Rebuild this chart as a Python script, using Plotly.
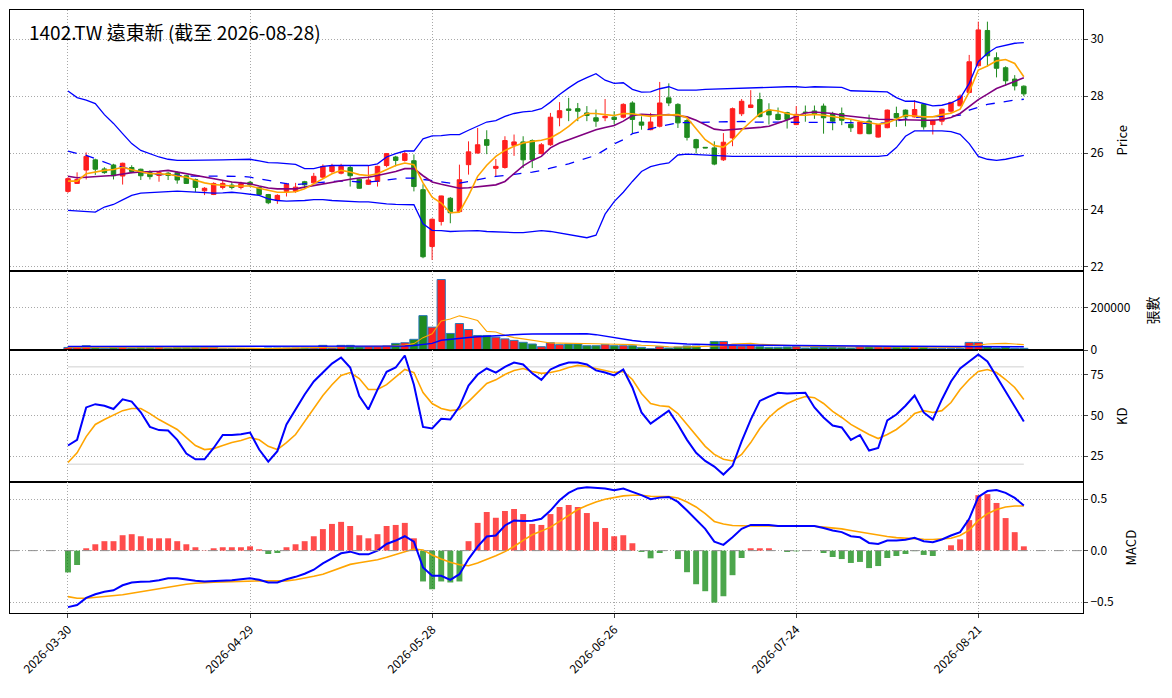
import pandas as pd
import plotly.graph_objects as go
from plotly.subplots import make_subplots

# ---------------------------------------------------------------------------
# Data
# ---------------------------------------------------------------------------

HOLIDAYS = ["2026-04-03", "2026-04-06", "2026-05-01", "2026-06-19"]
dates = [
    d.strftime("%Y-%m-%d")
    for d in pd.bdate_range("2026-03-30", "2026-08-28")
    if d.strftime("%Y-%m-%d") not in HOLIDAYS
]
tick_dates = ["2026-03-30", "2026-04-29", "2026-05-28", "2026-06-26", "2026-07-24", "2026-08-21"]

opens = [24.65, 24.93, 25.40, 25.76, 25.44, 25.58, 25.19, 25.49, 25.43, 25.31,
         25.21, 25.29, 25.31, 25.20, 25.07, 24.67, 24.54, 24.79, 24.87, 24.79,
         24.97, 24.79, 24.54, 24.33, 24.65, 24.65, 24.99, 24.95, 25.15, 25.35,
         25.29, 25.49, 25.08, 24.90, 25.00, 25.56, 25.86, 25.74, 25.73, 24.71,
         22.71, 23.59, 24.41, 23.94, 25.59, 26.00, 26.47, 25.46, 25.49, 26.27,
         26.39, 26.44, 25.98, 26.29, 27.24, 27.55, 27.56, 27.41, 27.24, 27.24,
         27.26, 27.26, 27.76, 27.09, 26.82, 26.94, 27.94, 27.71, 27.14, 26.47,
         26.20, 26.18, 25.76, 26.53, 27.38, 27.60, 27.88, 27.51, 27.36, 27.42,
         27.00, 27.44, 27.48, 27.65, 27.39, 27.39, 27.01, 26.68, 27.12, 26.56,
         26.89, 27.39, 27.51, 27.27, 27.71, 27.00, 27.12, 27.47, 27.66, 28.13,
         29.07, 30.31, 29.35, 29.00, 28.60, 28.35]
highs = [25.15, 25.32, 26.02, 25.80, 25.50, 25.62, 25.66, 25.57, 25.45, 25.39,
         25.35, 25.33, 25.35, 25.22, 25.10, 24.80, 24.97, 25.05, 24.99, 24.99,
         25.02, 24.80, 24.56, 24.55, 24.95, 24.95, 25.02, 25.30, 25.60, 25.62,
         25.62, 25.55, 25.10, 25.55, 25.55, 26.00, 25.90, 26.05, 25.95, 24.90,
         23.70, 24.50, 24.45, 25.59, 26.41, 26.88, 26.80, 25.79, 26.59, 26.65,
         26.59, 26.48, 26.35, 27.41, 27.79, 27.94, 27.76, 27.65, 27.53, 27.90,
         27.47, 27.75, 27.82, 27.29, 27.41, 28.50, 28.45, 27.75, 27.20, 26.50,
         26.21, 26.41, 26.70, 27.60, 27.90, 28.21, 28.12, 27.75, 27.60, 27.45,
         27.65, 27.67, 27.67, 27.74, 27.45, 27.60, 27.18, 27.10, 27.35, 27.02,
         27.53, 27.63, 27.53, 27.86, 27.73, 27.17, 27.56, 27.80, 28.06, 29.45,
         30.62, 30.62, 29.54, 29.05, 28.74, 28.38]
lows = [24.60, 24.92, 25.07, 25.23, 25.27, 25.07, 24.89, 25.29, 25.05, 25.07,
        24.99, 25.05, 24.92, 24.92, 24.63, 24.52, 24.52, 24.72, 24.72, 24.72,
        24.80, 24.50, 24.20, 24.21, 24.47, 24.60, 24.80, 24.92, 25.10, 25.30,
        25.25, 24.82, 24.74, 24.88, 24.82, 25.50, 25.53, 25.70, 24.65, 22.30,
        22.24, 23.45, 23.53, 23.90, 25.24, 25.98, 25.96, 25.18, 25.45, 25.90,
        25.47, 25.47, 25.95, 26.25, 26.94, 27.12, 27.12, 27.12, 26.92, 27.12,
        27.00, 27.22, 26.70, 26.82, 26.80, 26.90, 27.65, 26.88, 26.44, 25.98,
        26.17, 25.57, 25.72, 26.24, 27.30, 27.58, 27.25, 27.00, 27.15, 26.86,
        26.98, 27.10, 27.20, 26.68, 26.80, 26.98, 26.74, 26.66, 26.66, 26.54,
        26.87, 26.92, 26.94, 27.25, 26.82, 26.65, 26.98, 27.40, 27.64, 28.10,
        29.04, 29.04, 28.66, 28.36, 28.20, 28.00]
closes = [25.10, 25.07, 25.88, 25.43, 25.31, 25.20, 25.64, 25.35, 25.20, 25.17,
          25.31, 25.21, 25.05, 24.93, 24.79, 24.76, 24.93, 24.93, 24.79, 24.92,
          24.88, 24.54, 24.25, 24.51, 24.90, 24.80, 24.88, 25.18, 25.53, 25.53,
          25.53, 25.20, 24.76, 25.05, 25.53, 25.98, 25.74, 25.98, 24.82, 22.35,
          23.67, 24.49, 23.90, 25.06, 26.04, 26.29, 26.27, 25.53, 26.44, 26.39,
          25.76, 25.76, 26.29, 27.26, 27.49, 27.50, 27.47, 27.32, 27.12, 27.29,
          27.18, 27.71, 27.18, 26.98, 27.09, 27.76, 27.76, 27.06, 26.55, 26.18,
          26.18, 25.61, 26.38, 27.56, 27.82, 27.69, 27.28, 27.34, 27.18, 27.18,
          27.36, 27.42, 27.36, 27.24, 27.12, 27.15, 26.89, 27.09, 26.68, 27.00,
          27.51, 27.24, 27.27, 27.53, 26.92, 27.15, 27.54, 27.78, 28.00, 29.21,
          30.33, 29.42, 28.98, 28.54, 28.36, 28.08]

ma5 = [25.01, 25.01, 25.27, 25.33, 25.39, 25.42, 25.50, 25.41, 25.33, 25.27,
       25.27, 25.25, 25.19, 25.15, 25.04, 24.95, 24.89, 24.86, 24.84, 24.84,
       24.84, 24.76, 24.68, 24.62, 24.62, 24.64, 24.74, 24.92, 25.09, 25.27,
       25.39, 25.33, 25.24, 25.21, 25.27, 25.41, 25.56, 25.65, 25.59, 24.95,
       24.45, 24.24, 23.90, 23.92, 24.50, 25.18, 25.57, 25.88, 26.09, 26.24,
       26.35, 26.41, 26.45, 26.53, 26.71, 26.94, 27.21, 27.39, 27.39, 27.35,
       27.32, 27.39, 27.38, 27.33, 27.29, 27.33, 27.35, 27.35, 27.24, 26.85,
       26.47, 26.26, 26.21, 26.45, 26.80, 27.10, 27.38, 27.52, 27.48, 27.39,
       27.33, 27.33, 27.36, 27.33, 27.29, 27.24, 27.19, 27.12, 27.06, 27.01,
       27.06, 27.19, 27.33, 27.30, 27.27, 27.27, 27.35, 27.40, 27.54, 28.15,
       28.92, 29.06, 29.24, 29.29, 29.15, 28.68]
ma10 = [25.18, 25.13, 25.15, 25.18, 25.19, 25.21, 25.27, 25.31, 25.33, 25.34,
        25.36, 25.39, 25.33, 25.27, 25.21, 25.15, 25.09, 25.04, 24.98, 24.95,
        24.92, 24.84, 24.77, 24.74, 24.74, 24.74, 24.80, 24.86, 24.92, 24.98,
        25.04, 25.08, 25.12, 25.15, 25.21, 25.27, 25.35, 25.45, 25.45, 25.20,
        24.98, 24.90, 24.82, 24.76, 24.78, 24.82, 24.85, 24.88, 25.00, 25.29,
        25.55, 25.74, 25.88, 26.18, 26.35, 26.47, 26.59, 26.71, 26.82, 26.90,
        26.97, 27.12, 27.32, 27.36, 27.34, 27.33, 27.35, 27.32, 27.27, 27.15,
        27.00, 26.84, 26.80, 26.82, 26.86, 26.86, 26.90, 26.94, 27.04, 27.16,
        27.29, 27.41, 27.44, 27.41, 27.39, 27.33, 27.29, 27.25, 27.21, 27.19,
        27.18, 27.18, 27.16, 27.16, 27.15, 27.15, 27.18, 27.25, 27.39, 27.62,
        27.88, 28.07, 28.27, 28.39, 28.51, 28.65]
bb_up = [28.18, 27.95, 27.86, 27.74, 27.35, 27.04, 26.68, 26.33, 26.09, 25.98,
         25.86, 25.78, 25.74, 25.74, 25.74, 25.75, 25.75, 25.76, 25.77, 25.78,
         25.78, 25.72, 25.66, 25.65, 25.62, 25.60, 25.45, 25.45, 25.53, 25.56,
         25.56, 25.56, 25.56, 25.56, 25.62, 25.86, 25.98, 26.07, 26.07, 26.50,
         26.60, 26.61, 26.65, 26.65, 26.80, 26.94, 27.09, 27.14, 27.29, 27.39,
         27.45, 27.47, 27.56, 27.79, 28.06, 28.29, 28.50, 28.65, 28.79, 28.56,
         28.45, 28.47, 28.24, 28.14, 28.15, 28.26, 28.33, 28.21, 28.21, 28.21,
         28.24, 28.25, 28.26, 28.28, 28.30, 28.31, 28.31, 28.33, 28.33, 28.33,
         28.33, 28.31, 28.33, 28.33, 28.33, 28.31, 28.19, 28.18, 28.18, 28.16,
         28.15, 27.95, 27.82, 27.82, 27.74, 27.66, 27.68, 27.76, 27.92, 28.45,
         29.21, 29.51, 29.72, 29.80, 29.86, 29.88]
bb_mid = [26.07, 25.98, 25.92, 25.80, 25.68, 25.56, 25.50, 25.41, 25.33, 25.27,
          25.25, 25.22, 25.19, 25.19, 25.19, 25.19, 25.19, 25.19, 25.18, 25.18,
          25.15, 25.09, 25.04, 24.98, 24.92, 24.89, 24.92, 24.95, 24.98, 25.00,
          25.01, 25.01, 24.98, 24.98, 25.01, 25.06, 25.09, 25.12, 25.12, 25.07,
          25.03, 24.98, 24.94, 24.94, 25.00, 25.06, 25.12, 25.18, 25.21, 25.24,
          25.29, 25.33, 25.38, 25.47, 25.54, 25.62, 25.72, 25.82, 25.92, 26.12,
          26.32, 26.47, 26.68, 26.76, 26.86, 26.94, 27.00, 27.06, 27.07, 27.08,
          27.08, 27.10, 27.10, 27.11, 27.11, 27.09, 27.09, 27.09, 27.09, 27.09,
          27.09, 27.09, 27.09, 27.09, 27.09, 27.09, 27.07, 27.04, 27.04, 27.04,
          27.07, 27.12, 27.19, 27.25, 27.27, 27.27, 27.29, 27.29, 27.33, 27.51,
          27.62, 27.71, 27.76, 27.82, 27.86, 27.89]
bb_low = [23.98, 23.96, 23.95, 23.92, 24.10, 24.19, 24.35, 24.51, 24.59, 24.60,
          24.62, 24.64, 24.66, 24.64, 24.62, 24.60, 24.59, 24.60, 24.62, 24.59,
          24.56, 24.51, 24.39, 24.33, 24.31, 24.31, 24.33, 24.36, 24.36, 24.33,
          24.31, 24.30, 24.28, 24.28, 24.24, 24.21, 24.19, 24.18, 24.18, 23.51,
          23.28, 23.27, 23.24, 23.25, 23.27, 23.27, 23.24, 23.22, 23.22, 23.20,
          23.20, 23.24, 23.27, 23.24, 23.18, 23.12, 23.06, 23.02, 23.11, 23.85,
          24.29, 24.62, 25.00, 25.35, 25.52, 25.60, 25.65, 25.93, 25.96, 25.94,
          25.92, 25.91, 25.88, 25.88, 25.88, 25.88, 25.88, 25.88, 25.88, 25.88,
          25.88, 25.88, 25.88, 25.88, 25.88, 25.88, 25.88, 25.88, 25.88, 25.88,
          25.92, 26.19, 26.59, 26.78, 26.78, 26.78, 26.78, 26.75, 26.66, 26.33,
          25.88, 25.78, 25.74, 25.78, 25.84, 25.92]

volume = [12000, 12000, 20000, 11000, 8000, 11000, 12400, 9300, 11000, 11000,
          12400, 9300, 11000, 11000, 11000, 12400, 12400, 6200, 6200, 6200,
          6200, 6200, 9300, 9300, 9300, 9300, 9300, 9300, 21700, 9300,
          21700, 21700, 14000, 15500, 15500, 18600, 31000, 34000, 50000, 161000,
          107000, 330000, 77500, 124000, 96000, 68000, 68000, 60000, 52000, 45000,
          36000, 28000, 15500, 34000, 25000, 28000, 28000, 20000, 20000, 25000,
          20000, 20000, 20000, 12400, 6200, 15500, 9300, 14000, 18600, 18600,
          1500, 40000, 40000, 21700, 18600, 21700, 15500, 12400, 12400, 14000,
          15500, 9300, 12400, 12400, 12400, 11000, 9300, 15500, 15500, 15500,
          15500, 15500, 15500, 15500, 15500, 7800, 6200, 6200, 6200, 35600,
          35600, 15500, 9300, 12400, 7800, 7800]
vol_ma5 = [12000, 12000, 13000, 12500, 12600, 12400, 12500, 10300, 10300, 11000,
           11000, 10600, 10900, 10900, 11000, 11000, 11600, 10600, 9600, 8700,
           7500, 6200, 6800, 7400, 8000, 8700, 9300, 9300, 11800, 11800,
           14300, 16700, 17700, 16800, 17700, 17100, 19000, 22900, 30000, 58000,
           76000, 136000, 145000, 160000, 150000, 138000, 87000, 84000, 69000, 58000,
           52000, 45000, 36000, 32500, 32000, 32000, 31000, 30000, 29000, 28000,
           28000, 27000, 25000, 22000, 21000, 19000, 15000, 14000, 14000, 16000,
           18000, 18600, 20000, 28000, 31000, 31000, 27000, 25000, 21000, 19000,
           18600, 18000, 17000, 16000, 15500, 15500, 15500, 15500, 15500, 15500,
           15500, 15500, 15500, 15500, 15500, 15000, 14000, 13000, 12000, 18000,
           24000, 28000, 30000, 31000, 28000, 25000]
vol_ma20 = [16000, 16000, 16000, 16000, 16000, 16000, 16000, 16000, 16000, 16000,
            16000, 15800, 15600, 15500, 15500, 15500, 15500, 15500, 15500, 15500,
            15500, 15500, 15500, 15500, 15500, 15500, 15500, 15500, 15500, 15500,
            15500, 15600, 15800, 16000, 16500, 17000, 18000, 19000, 21000, 27000,
            31000, 46000, 49000, 54000, 58000, 62000, 65000, 68000, 71000, 73000,
            74000, 75000, 75500, 76000, 76000, 76000, 76000, 76000, 72000, 65000,
            58000, 48000, 44000, 40000, 37000, 34000, 32000, 30000, 28000, 27000,
            25000, 24000, 23500, 23000, 22500, 22000, 21700, 21700, 21000, 21000,
            20500, 20000, 19500, 19000, 18600, 18600, 18300, 18000, 17700, 17500,
            17300, 17000, 17000, 17000, 16800, 16600, 16400, 16200, 16000, 15800,
            15700, 15600, 15500, 15500, 15500, 15500]

k_vals = [31.5, 35, 55, 57, 56, 54, 60, 58.6, 52, 43,
          41, 40.7, 35, 26.5, 23, 23, 30, 38, 38, 38.5,
          39.5, 29, 21.6, 28, 44.5, 53.7, 63, 71, 76.5, 82,
          85.8, 79.6, 62, 53.7, 66, 77, 79.6, 87, 69, 43,
          42, 48, 47.5, 55.5, 68.5, 75.3, 79, 76.5, 80, 82.7,
          81.5, 76, 72, 78.4, 81, 82.7, 82.7, 81.5, 77.8, 76.5,
          74.7, 78.4, 67.3, 51.9, 45, 48.8, 53, 44.5, 35, 27,
          22, 18.5, 13.6, 19, 34, 47.5, 59, 61.7, 64, 63.6,
          63.6, 64, 55, 48.8, 43.8, 42.6, 35, 38, 28.4, 30,
          47, 50.6, 56, 62.3, 51.9, 47.5, 59.9, 71, 79, 83.3,
          87.6, 83.3, 74, 64.8, 56, 46.3]
d_vals = [21, 27, 37, 44.5, 47.5, 50, 53, 54.3, 54.3, 51.2,
          47.5, 44.5, 41.4, 36.4, 31.5, 29, 29.6, 31.5, 33.3, 34.6,
          36.4, 35, 31, 29, 33.3, 38.3, 46.3, 55, 62.3, 69,
          74.7, 76.5, 72.8, 66, 66, 69, 73.5, 78.4, 76.5, 64.2,
          57.4, 54.3, 53, 53.7, 58.6, 64.2, 69.8, 72, 75.3, 77.8,
          79, 77.2, 76, 76.5, 77.8, 79.6, 80.9, 80.2, 79, 77.8,
          76.5, 77.2, 72.2, 63.6, 57.4, 56, 55.5, 51.2, 44.5, 37.7,
          31, 26, 23, 22, 26, 33.3, 42, 48.8, 53.7, 57.4,
          59.9, 61.7, 61, 57.4, 52.5, 48.8, 44.5, 41.4, 38.3, 35.8,
          38.3, 41.4, 45.7, 51.2, 53, 51.9, 53, 58, 66, 72.2,
          77.2, 78.4, 76.5, 72.2, 67.3, 59.9]
KD_REF = [20, 80]

macd_hist = [-0.212, -0.14, 0.023, 0.062, 0.092, 0.092, 0.15, 0.16, 0.14, 0.12,
             0.12, 0.12, 0.092, 0.062, 0.033, 0.003, 0.023, 0.033, 0.033, 0.033,
             0.042, 0.013, -0.033, -0.023, 0.033, 0.062, 0.092, 0.14, 0.21, 0.26,
             0.28, 0.24, 0.15, 0.12, 0.16, 0.24, 0.25, 0.27, 0.12, -0.30,
             -0.376, -0.30, -0.31, -0.30, 0.092, 0.27, 0.376, 0.32, 0.386, 0.405,
             0.356, 0.26, 0.25, 0.356, 0.425, 0.444, 0.425, 0.366, 0.28, 0.22,
             0.14, 0.15, 0.072, -0.013, -0.075, -0.023, 0.0, -0.082, -0.21, -0.327,
             -0.395, -0.506, -0.444, -0.239, -0.072, 0.023, 0.023, 0.023, 0.0, -0.013,
             -0.007, 0.0, 0.0, -0.023, -0.062, -0.082, -0.12, -0.11, -0.17, -0.15,
             -0.072, -0.052, -0.033, -0.005, -0.042, -0.052, 0.0, 0.052, 0.11, 0.297,
             0.54, 0.55, 0.464, 0.317, 0.18, 0.042]
dif = [-0.55, -0.53, -0.46, -0.425, -0.40, -0.386, -0.337, -0.31, -0.304, -0.30,
       -0.288, -0.27, -0.27, -0.284, -0.294, -0.30, -0.297, -0.288, -0.288, -0.278,
       -0.27, -0.284, -0.31, -0.31, -0.278, -0.255, -0.225, -0.186, -0.124, -0.075,
       -0.026, -0.01, -0.036, -0.036, 0.0, 0.065, 0.098, 0.14, 0.088, -0.163,
       -0.245, -0.245, -0.284, -0.229, -0.082, 0.039, 0.137, 0.147, 0.245, 0.294,
       0.288, 0.29, 0.31, 0.39, 0.49, 0.562, 0.605, 0.617, 0.61, 0.605,
       0.588, 0.605, 0.572, 0.54, 0.50, 0.516, 0.523, 0.474, 0.39, 0.304,
       0.212, 0.088, 0.056, 0.13, 0.212, 0.25, 0.25, 0.25, 0.24, 0.24,
       0.24, 0.24, 0.24, 0.22, 0.196, 0.18, 0.14, 0.13, 0.075, 0.065,
       0.098, 0.098, 0.105, 0.124, 0.092, 0.082, 0.108, 0.147, 0.18, 0.31,
       0.523, 0.58, 0.59, 0.562, 0.513, 0.44]
dea = [-0.448, -0.464, -0.464, -0.457, -0.45, -0.44, -0.43, -0.415, -0.40, -0.382,
       -0.366, -0.353, -0.34, -0.327, -0.317, -0.31, -0.307, -0.304, -0.30, -0.297,
       -0.294, -0.294, -0.294, -0.297, -0.294, -0.284, -0.27, -0.25, -0.229, -0.196,
       -0.163, -0.134, -0.118, -0.105, -0.088, -0.065, -0.039, -0.01, 0.016, 0.007,
       -0.042, -0.082, -0.114, -0.137, -0.147, -0.12, -0.088, -0.05, -0.01, 0.04,
       0.10, 0.155, 0.19, 0.229, 0.284, 0.343, 0.40, 0.44, 0.474, 0.50,
       0.516, 0.533, 0.539, 0.539, 0.53, 0.528, 0.526, 0.513, 0.474, 0.425,
       0.36, 0.284, 0.26, 0.245, 0.24, 0.24, 0.24, 0.24, 0.24, 0.24,
       0.24, 0.24, 0.237, 0.229, 0.222, 0.212, 0.196, 0.18, 0.163, 0.147,
       0.137, 0.127, 0.12, 0.114, 0.111, 0.108, 0.111, 0.12, 0.147, 0.20,
       0.294, 0.36, 0.40, 0.425, 0.435, 0.435]

# ---------------------------------------------------------------------------
# Styling
# ---------------------------------------------------------------------------

RED = "#ff1f1f"
GREEN = "#1f8b1f"
FONT = "Noto Sans CJK TC, Noto Sans, sans-serif"
GRID = "#a8a8a8"
GRID_DASH = "1px,2px"

up = [c >= o for o, c in zip(opens, closes)]
vol_colors = [RED if u else GREEN for u in up]
hist_colors = ["rgba(255,0,0,0.7)" if h >= 0 else "rgba(0,128,0,0.7)" for h in macd_hist]

fig = make_subplots(
    rows=4, cols=1, shared_xaxes=True, vertical_spacing=0,
    row_heights=[261, 79, 132, 131],
)

# 1 — price panel
fig.add_trace(go.Candlestick(
    x=dates, open=opens, high=highs, low=lows, close=closes,
    increasing=dict(line=dict(color=RED, width=1), fillcolor=RED),
    decreasing=dict(line=dict(color=GREEN, width=1), fillcolor=GREEN),
    whiskerwidth=0, name="K",
), row=1, col=1)
for ys, color, dash, width in [
    (bb_up, "#0000ff", "solid", 1.3),
    (bb_low, "#0000ff", "solid", 1.3),
    (bb_mid, "#0000ff", "dash", 1.3),
    (ma10, "#800080", "solid", 1.6),
    (ma5, "#ffa500", "solid", 1.6),
]:
    fig.add_trace(go.Scatter(x=dates, y=ys, mode="lines",
                             line=dict(color=color, dash=dash, width=width)), row=1, col=1)

# 2 — volume panel
fig.add_trace(go.Bar(x=dates, y=volume, width=0.9, marker_color=vol_colors,
                     marker_line=dict(color="#2a78b8", width=1)), row=2, col=1)
fig.add_trace(go.Scatter(x=dates, y=vol_ma5, mode="lines",
                         line=dict(color="#ffa500", width=1.1)), row=2, col=1)
fig.add_trace(go.Scatter(x=dates, y=vol_ma20, mode="lines",
                         line=dict(color="#0000ff", width=1.5)), row=2, col=1)

# 3 — KD panel
for ref in KD_REF:
    fig.add_trace(go.Scatter(x=[dates[0], dates[-1]], y=[ref, ref], mode="lines",
                             line=dict(color="#d0d0d0", width=1)), row=3, col=1)
fig.add_trace(go.Scatter(x=dates, y=d_vals, mode="lines",
                         line=dict(color="#ffa500", width=1.6)), row=3, col=1)
fig.add_trace(go.Scatter(x=dates, y=k_vals, mode="lines",
                         line=dict(color="#0000ff", width=2)), row=3, col=1)

# 4 — MACD panel
fig.add_trace(go.Bar(x=dates, y=macd_hist, width=0.65, marker_color=hist_colors,
                     marker_line_width=0), row=4, col=1)
fig.add_hline(y=0, line=dict(color="#909090", width=1, dash="dash"), row=4, col=1)
fig.add_trace(go.Scatter(x=dates, y=dea, mode="lines",
                         line=dict(color="#ffa500", width=1.6)), row=4, col=1)
fig.add_trace(go.Scatter(x=dates, y=dif, mode="lines",
                         line=dict(color="#0000ff", width=2)), row=4, col=1)

# ---------------------------------------------------------------------------
# Axes / layout
# ---------------------------------------------------------------------------

fig.update_xaxes(
    type="category", range=[-6.37, 111.5],
    tickvals=tick_dates, ticktext=tick_dates,
    showgrid=True, gridcolor=GRID, griddash=GRID_DASH, gridwidth=1,
    showline=True, mirror=True, linecolor="black", linewidth=1,
    zeroline=False, rangeslider_visible=False,
)
fig.update_xaxes(tickangle=-45, ticks="outside", ticklen=4,
                 tickfont=dict(size=12, color="black"), row=4, col=1)

fig.update_yaxes(
    side="right", showgrid=True, gridcolor=GRID, griddash=GRID_DASH, gridwidth=1,
    showline=True, mirror=True, linecolor="black", linewidth=1,
    ticks="outside", ticklen=4, zeroline=False,
    tickfont=dict(size=12, color="black"),
)
fig.update_yaxes(range=[21.85, 31.03], tickvals=[22, 24, 26, 28, 30], row=1, col=1)
fig.update_yaxes(range=[0, 370000], tickvals=[0, 200000], ticktext=["0", "200000"], row=2, col=1)
fig.update_yaxes(range=[9, 90.4], tickvals=[25, 50, 75], row=3, col=1)
fig.update_yaxes(range=[-0.607, 0.668], tickvals=[-0.5, 0, 0.5],
                 ticktext=["\u22120.5", "0.0", "0.5"], row=4, col=1)

annotations = [
    dict(text="1402.TW 遠東新 (截至 2026-08-28)", x=0.0155, y=0.965, xanchor="left",
         yanchor="middle", font=dict(size=19, color="black"), textangle=0),
    dict(text="Price", x=1.0363, y=0.7836, textangle=-90, font=dict(size=13, color="black")),
    dict(text="張數", x=1.0643, y=0.5017, textangle=-90, font=dict(size=14, color="black")),
    dict(text="KD", x=1.0363, y=0.3267, textangle=-90, font=dict(size=13, color="black")),
    dict(text="MACD", x=1.0447, y=0.1086, textangle=-90, font=dict(size=13, color="black")),
]
for a in annotations:
    a.setdefault("xanchor", "center")
    a.setdefault("yanchor", "middle")
    fig.add_annotation(xref="paper", yref="paper", showarrow=False, **a)

# the page adds an 8px body margin, so the figure is shrunk by that much
fig.update_layout(
    width=1164, height=690,
    margin=dict(l=2, r=89, t=2, b=85),
    paper_bgcolor="white", plot_bgcolor="white",
    showlegend=False,
    font=dict(family=FONT, size=12, color="black"),
    hovermode=False,
)

fig.write_html("out.html")
